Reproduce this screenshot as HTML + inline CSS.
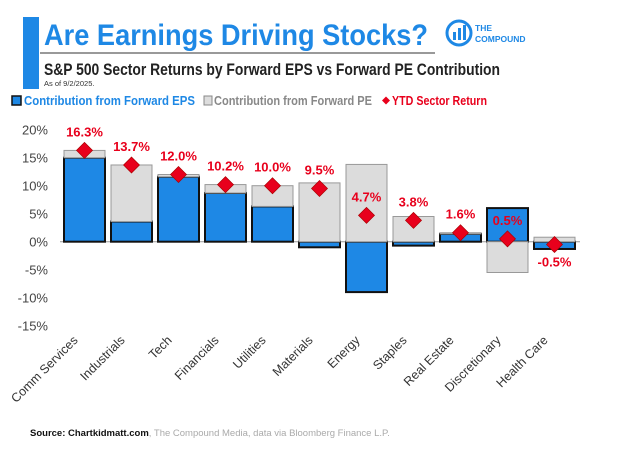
<!DOCTYPE html>
<html><head><meta charset="utf-8"><style>
body{margin:0;background:#fff;width:622px;height:445px;overflow:hidden;font-family:"Liberation Sans",sans-serif}
</style></head><body>
<svg width="622" height="445" viewBox="0 0 622 445" xmlns="http://www.w3.org/2000/svg">
<rect x="23" y="17" width="16" height="72" fill="#1e88e5"/>
<text x="44" y="45" font-size="30" font-weight="bold" fill="#1e88e5" textLength="384" lengthAdjust="spacingAndGlyphs">Are Earnings Driving Stocks?</text>
<line x1="40" y1="53" x2="435" y2="53" stroke="#999" stroke-width="2"/>
<g>
<circle cx="459" cy="33" r="12" fill="none" stroke="#1e88e5" stroke-width="3"/>
<rect x="453" y="32" width="3" height="8" fill="#1e88e5"/><rect x="458" y="28" width="3" height="12" fill="#1e88e5"/><rect x="463" y="25" width="3" height="15" fill="#1e88e5"/>
<text x="475" y="31" font-size="8.5" fill="#1e88e5" font-weight="bold">THE</text>
<text x="475" y="42" font-size="8.5" fill="#1e88e5" font-weight="bold">COMPOUND</text>
</g>
<text x="44" y="75" font-size="16.5" font-weight="bold" fill="#222" textLength="456" lengthAdjust="spacingAndGlyphs">S&amp;P 500 Sector Returns by Forward EPS vs Forward PE Contribution</text>
<text x="44" y="86" font-size="7.5" fill="#333">As of 9/2/2025.</text>
<g font-size="12.5" font-weight="bold">
<g><rect x="12" y="96" width="9" height="9" fill="#1e88e5" stroke="#111" stroke-width="1.5"/><text x="24" y="105" fill="#1e88e5" textLength="171" lengthAdjust="spacingAndGlyphs">Contribution from Forward EPS</text></g>
<g><rect x="204" y="96" width="8" height="9" fill="#ddd" stroke="#888" stroke-width="1"/><text x="214" y="105" fill="#888" textLength="158" lengthAdjust="spacingAndGlyphs">Contribution from Forward PE</text></g>
<g><path d="M386 96.5 L390 100.5 L386 104.5 L382 100.5Z" fill="#e8001c"/><text x="392" y="105" fill="#e8001c" textLength="95" lengthAdjust="spacingAndGlyphs">YTD Sector Return</text></g>
</g>
<g id="plot"></g>
<text x="30" y="436" font-size="9.5" font-weight="bold" fill="#111">Source: Chartkidmatt.com<tspan font-weight="normal" fill="#aaa">, The Compound Media, data via Bloomberg Finance L.P.</tspan></text>
</svg>
<script>
const categories=["Comm Services","Industrials","Tech","Financials","Utilities","Materials","Energy","Staples","Real Estate","Discretionary","Health Care"];
const epsValues=[15.0,3.6,11.6,8.7,6.3,-1.0,-9.0,-0.7,1.4,6.0,-1.3];
const peValues=[1.3,10.1,0.4,1.5,3.7,10.5,13.8,4.5,0.2,-5.5,0.8];
const ytdValues=[16.3,13.7,12.0,10.2,10.0,9.5,4.7,3.8,1.6,0.5,-0.5];
const ytdLabels=["16.3%","13.7%","12.0%","10.2%","10.0%","9.5%","4.7%","3.8%","1.6%","0.5%","-0.5%"];
const yTicks=[20,15,10,5,0,-5,-10,-15];
const NS="http://www.w3.org/2000/svg";
const g=document.getElementById('plot');
const y0=241.7,pxPer=5.6;
function y(v){return y0-v*pxPer;}
function xc(i){return 84.5+i*47;}
const bw=41;
function mk(t,a){const e=document.createElementNS(NS,t);for(const k in a)e.setAttribute(k,a[k]);g.appendChild(e);return e;}
yTicks.forEach(t=>{
  const e=mk('text',{x:48,y:y(t)+5,'font-size':13,fill:'#444','text-anchor':'end'});
  e.textContent=t+'%';
  
  
});
const ax=mk('line',{x1:60,x2:580,y1:y(0),y2:y(0),stroke:'#999','stroke-width':1});


categories.forEach((c,i)=>{
  const e=epsValues[i],p=peValues[i];
  let posBase=0,negBase=0;
  function seg(v,fill,stroke,name){
    let a,b;
    if(v>=0){a=posBase;b=posBase+v;posBase=b;}else{a=negBase;b=negBase+v;negBase=b;}
    const r=mk('rect',{x:xc(i)-bw/2,y:y(Math.max(a,b)),width:bw,height:Math.abs(y(a)-y(b)),fill:fill,stroke:stroke,'stroke-width':stroke=='#111'?2:1});
    
    
  }
  const segs=[[e,'#1e88e5','#111','eps-bar'],[p,'#dcdcdc','#999','pe-bar']];
  segs.forEach(s=>seg(s[0],s[1],s[2],s[3]));
  const v=ytdValues[i],cx=xc(i),cy=y(v),d=8;
  const m=mk('path',{d:`M${cx} ${cy-d}L${cx+d} ${cy}L${cx} ${cy+d}L${cx-d} ${cy}Z`,fill:'#e8001c',stroke:'#a00',"stroke-width":0.7});
  
  
  const lbl=mk('text',{x:cx,y:v<0?cy+22:cy-14,'font-size':13,'font-weight':'bold',fill:'#e8001c','text-anchor':'middle'});
  lbl.textContent=ytdLabels[i];
  
  
  const t=mk('text',{x:0,y:0,'font-size':12.5,fill:'#333','text-anchor':'end',transform:`translate(${cx-6},${341}) rotate(-45)`});
  t.textContent=c;
  
  
});
</script>
</body></html>
